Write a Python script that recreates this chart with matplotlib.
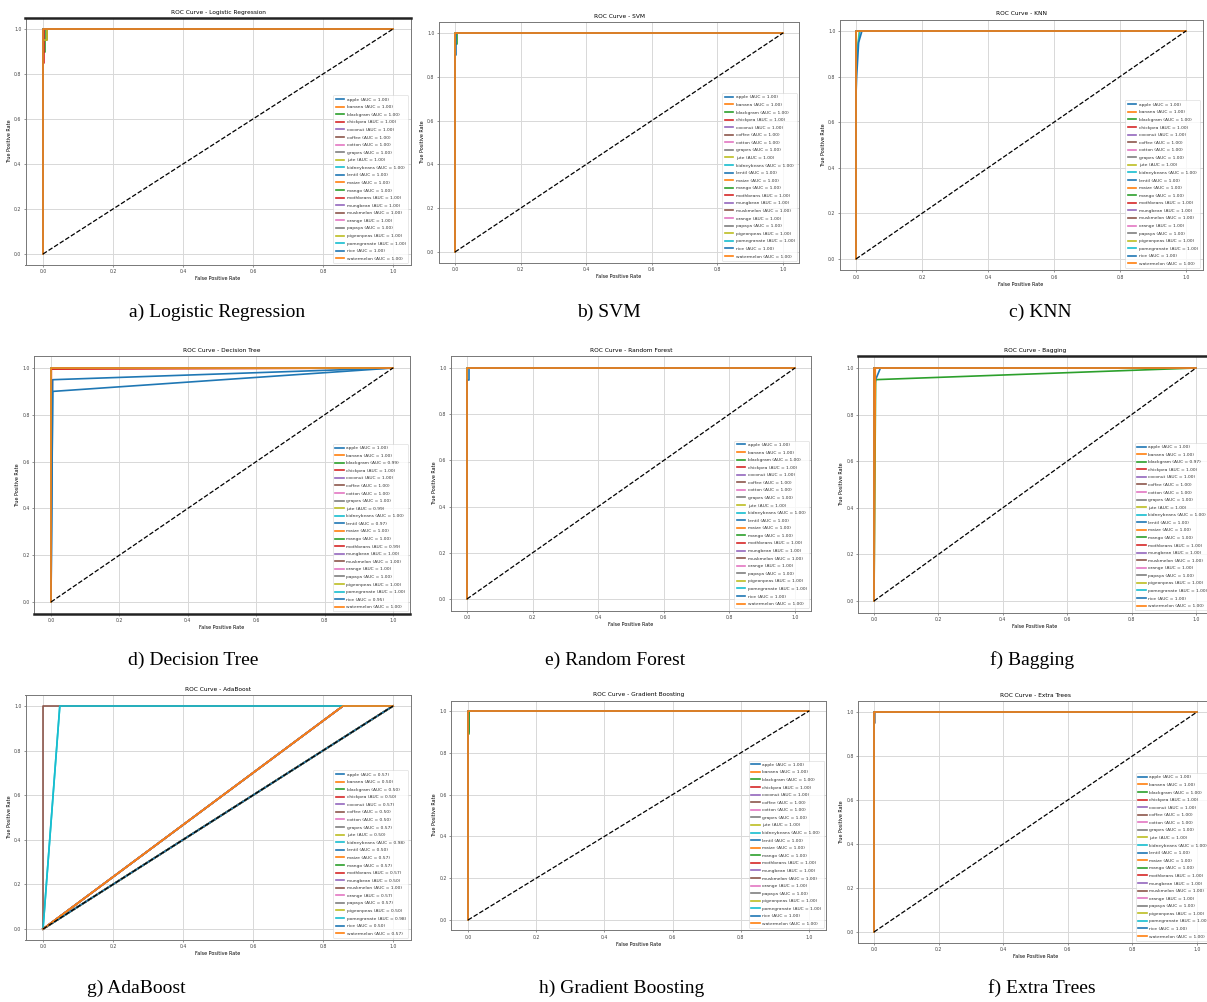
import matplotlib
matplotlib.use('Agg')
import matplotlib.pyplot as plt

plt.rcParams['font.family'] = 'DejaVu Sans'

# class names of the crop data set
crops = ['apple', 'banana', 'blackgram', 'chickpea', 'coconut', 'coffee',
         'cotton', 'grapes', 'jute', 'kidneybeans', 'lentil', 'maize',
         'mango', 'mothbeans', 'mungbean', 'muskmelon', 'orange', 'papaya',
         'pigeonpeas', 'pomegranate', 'rice', 'watermelon']

models = ['Logistic Regression', 'SVM', 'KNN', 'Decision Tree',
          'Random Forest', 'Bagging', 'AdaBoost', 'Gradient Boosting',
          'Extra Trees']
captions = ['a) Logistic Regression', 'b) SVM', 'c) KNN', 'd) Decision Tree',
            'e) Random Forest', 'f) Bagging', 'g) AdaBoost',
            'h) Gradient Boosting', 'f) Extra Trees']

# AUC values read from the legends
auc_lr = [1.00] * 22
auc_svm = [1.00] * 22
auc_knn = [1.00] * 22
auc_dt = [1.00, 1.00, 0.99, 1.00, 1.00, 1.00, 1.00, 1.00, 0.99, 1.00, 0.97,
          1.00, 1.00, 0.99, 1.00, 1.00, 1.00, 1.00, 1.00, 1.00, 0.95, 1.00]
auc_rf = [1.00] * 22
auc_bag = [1.00, 1.00, 0.97, 1.00, 1.00, 1.00, 1.00, 1.00, 1.00, 1.00, 1.00,
           1.00, 1.00, 1.00, 1.00, 1.00, 1.00, 1.00, 1.00, 1.00, 1.00, 1.00]
auc_ada = [0.57, 0.50, 0.50, 0.50, 0.57, 0.50, 0.50, 0.57, 0.50, 0.98, 0.50,
           0.57, 0.57, 0.57, 0.50, 1.00, 0.57, 0.57, 0.50, 0.98, 0.50, 0.57]
auc_gb = [1.00] * 22
auc_et = [1.00] * 22

# curves that are not a plain perfect step: {class: (fpr, tpr)}
roc_lr = {'chickpea': ([0, 0, 0.003, 0.003, 1], [0, 0.85, 0.85, 1, 1]),
          'blackgram': ([0, 0, 0.005, 0.005, 1], [0, 0.90, 0.90, 1, 1]),
          'jute': ([0, 0, 0.01, 0.01, 1], [0, 0.95, 0.95, 1, 1]),
          'coffee': ([0, 0, 0.01, 0.01, 1], [0, 0.95, 0.95, 1, 1])}
roc_svm = {'rice': ([0, 0, 0.004, 0.004, 1], [0, 0.90, 0.90, 1, 1]),
           'mango': ([0, 0, 0.005, 0.005, 1], [0, 0.95, 0.95, 1, 1])}
roc_knn = {'lentil': ([0, 0, 0.002, 0.008, 0.018, 1], [0, 0.72, 0.80, 0.95, 1, 1]),
           'jute': ([0, 0, 0.003, 0.01, 1], [0, 0.86, 0.90, 1, 1]),
           'kidneybeans': ([0, 0, 0.005, 0.012, 1], [0, 0.85, 0.93, 1, 1])}
roc_dt = {'lentil': ([0, 0.005, 1], [0, 0.95, 1]),
          'mothbeans': ([0, 0.001, 1], [0, 0.995, 1]),
          'rice': ([0, 0.005, 1], [0, 0.90, 1])}
roc_rf = {'jute': ([0, 0, 0.001, 0.001, 1], [0, 0.90, 0.90, 1, 1]),
          'rice': ([0, 0, 0.005, 0.005, 1], [0, 0.95, 0.95, 1, 1])}
roc_bag = {'blackgram': ([0, 0.005, 1], [0, 0.95, 1]),
           'lentil': ([0, 0, 0.005, 0.02, 1], [0, 0.90, 0.95, 1, 1]),
           'maize': ([0, 0.004, 0.004, 1], [0, 0.95, 1, 1])}
roc_ada = {'kidneybeans': ([0, 0.048, 1], [0, 1, 1]),
           'pomegranate': ([0, 0.048, 1], [0, 1, 1]),
           'muskmelon': ([0, 0, 1], [0, 1, 1])}
roc_gb = {'blackgram': ([0, 0, 0.004, 0.004, 1], [0, 0.89, 0.89, 1, 1]),
          'apple': ([0, 0, 0.002, 0.002, 1], [0, 0.90, 0.90, 1, 1])}
roc_et = {'papaya': ([0, 0, 0.003, 0.003, 1], [0, 0.95, 0.95, 1, 1])}

# AdaBoost partial curves: AUC 0.57 and 0.50
ada_fpr_57, ada_tpr_57 = [0, 0.857, 1], [0, 1, 1]
ada_fpr_50, ada_tpr_50 = [0, 1], [0, 1]

aucs = [auc_lr, auc_svm, auc_knn, auc_dt, auc_rf, auc_bag, auc_ada, auc_gb, auc_et]
rocs = [roc_lr, roc_svm, roc_knn, roc_dt, roc_rf, roc_bag, roc_ada, roc_gb, roc_et]

# pixel positions of data (0, 1) corners per panel: x0, x1, y_top, y_bottom
W, H = 1207, 1002
boxes = [(43, 393, 29, 254), (455, 783, 33, 252), (856, 1186, 31, 259),
         (51, 393, 368, 602), (467, 795, 368, 599), (874, 1196, 368, 601),
         (43, 393, 706, 929), (468, 809, 711, 920), (874, 1197, 712, 932)]
cap_pos = [(217, 312), (609, 312), (1040, 312), (193, 660), (615, 660),
           (1032, 660), (136, 988), (622, 988), (1042, 988)]
heavy_spine = {0: 'top', 3: 'bottom', 5: 'top'}

fig = plt.figure(figsize=(W / 100, H / 100), dpi=100)
colors = plt.rcParams['axes.prop_cycle'].by_key()['color']

for k, model in enumerate(models):
    x0, x1, yt, yb = boxes[k]
    dw, dh = x1 - x0, yb - yt
    left = (x0 - 0.05 * dw) / W
    bottom = (H - (yb + 0.05 * dh)) / H
    ax = fig.add_axes([left, bottom, 1.1 * dw / W, 1.1 * dh / H])
    for i, crop in enumerate(crops):
        auc = aucs[k][i]
        if crop in rocs[k]:
            fpr, tpr = rocs[k][crop]
        elif model == 'AdaBoost' and auc < 0.55:
            fpr, tpr = ada_fpr_50, ada_tpr_50
        elif model == 'AdaBoost':
            fpr, tpr = ada_fpr_57, ada_tpr_57
        else:
            fpr, tpr = [0, 0, 1], [0, 1, 1]
        ax.plot(fpr, tpr, color=colors[i % 10], lw=1.2,
                label=f'{crop} (AUC = {auc:.2f})')
    ax.plot([0, 1], [0, 1], 'k--', lw=0.9)
    ax.set_xlim(-0.05, 1.05)
    ax.set_ylim(-0.05, 1.05)
    ax.set_xticks([0, 0.2, 0.4, 0.6, 0.8, 1.0])
    ax.set_yticks([0, 0.2, 0.4, 0.6, 0.8, 1.0])
    ax.tick_params(labelsize=3.3, length=1.5, width=0.4, pad=1.5,
                   colors='#444444')
    ax.set_xlabel('False Positive Rate', fontsize=3.5, labelpad=1.5)
    ax.set_ylabel('True Positive Rate', fontsize=3.5, labelpad=1.5)
    ax.set_title(f'ROC Curve - {model}', fontsize=4.2, pad=3)
    ax.grid(True, color='#d8d8d8', lw=0.7)
    for side, sp in ax.spines.items():
        sp.set_color('#777777')
        sp.set_linewidth(0.7)
    if k in heavy_spine:
        ax.spines[heavy_spine[k]].set_color('#222222')
        ax.spines[heavy_spine[k]].set_linewidth(1.8)
    leg = ax.legend(loc='lower right', fontsize=3.2, handlelength=1.9,
                    handletextpad=0.6, labelspacing=0.78, borderpad=0.5,
                    framealpha=0.8)
    leg.get_frame().set_linewidth(0.4)
    for t in leg.get_texts():
        t.set_color('#333333')
    cx, cy = cap_pos[k]
    fig.text(cx / W, 1 - cy / H, captions[k], ha='center', va='center',
             fontsize=14, family='Liberation Serif')

fig.savefig('out.png', dpi=100, facecolor='white')
